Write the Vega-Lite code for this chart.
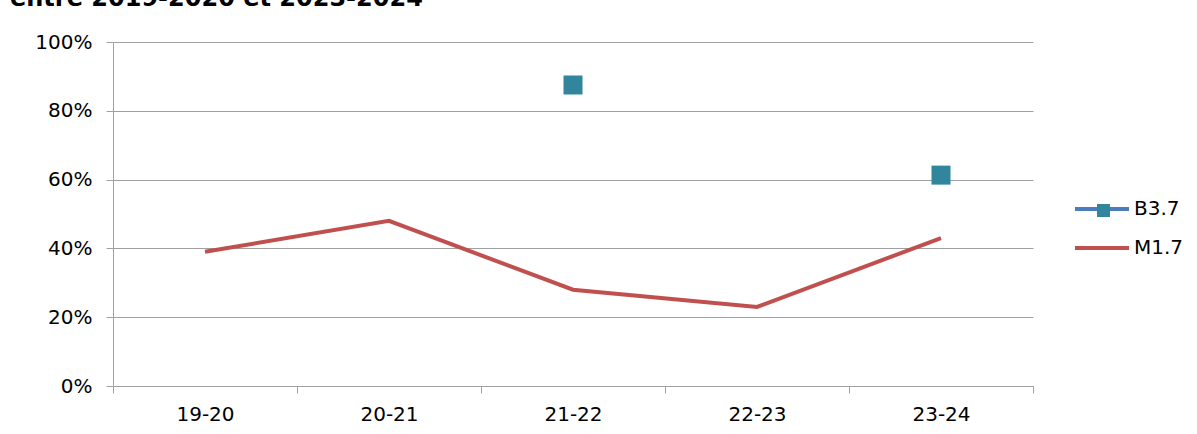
{
  "$schema": "https://vega.github.io/schema/vega-lite/v6.json",
  "autosize": "none",
  "padding": {"left": 113, "top": 42, "right": 164, "bottom": 48},
  "width": 920,
  "height": 344,
  "background": "white",
  "title": {
    "text": "entre 2019-2020 et 2023-2024",
    "anchor": "start",
    "frame": "group",
    "orient": "top",
    "font": "DejaVu Sans",
    "fontSize": 24,
    "fontWeight": "bold",
    "color": "#000000",
    "baseline": "alphabetic",
    "offset": 0,
    "dx": -103,
    "dy": -2
  },
  "datasets": {
    "m17": [
      {"year": "19-20", "series": "M1.7", "value": 0.39},
      {"year": "20-21", "series": "M1.7", "value": 0.48},
      {"year": "21-22", "series": "M1.7", "value": 0.28},
      {"year": "22-23", "series": "M1.7", "value": 0.23},
      {"year": "23-24", "series": "M1.7", "value": 0.43}
    ],
    "b37": [
      {"year": "21-22", "series": "B3.7", "value": 0.875},
      {"year": "23-24", "series": "B3.7", "value": 0.613}
    ]
  },
  "encoding": {
    "x": {
      "field": "year",
      "type": "ordinal",
      "sort": ["19-20", "20-21", "21-22", "22-23", "23-24"],
      "scale": {"type": "band", "domain": ["19-20", "20-21", "21-22", "22-23", "23-24"], "paddingInner": 0, "paddingOuter": 0},
      "axis": {
        "title": null,
        "labelAngle": 0,
        "tickBand": "extent",
        "tickSize": 7,
        "labelPadding": 11,
        "labelFont": "DejaVu Sans",
        "labelFontSize": 20,
        "labelColor": "#000000",
        "domainColor": "#a0a0a0",
        "tickColor": "#a0a0a0",
        "grid": false
      }
    },
    "y": {
      "field": "value",
      "type": "quantitative",
      "scale": {"domain": [0, 1], "nice": false},
      "axis": {
        "title": null,
        "values": [0, 0.2, 0.4, 0.6, 0.8, 1],
        "format": ".0%",
        "tickSize": 7,
        "labelPadding": 14,
        "labelFont": "DejaVu Sans",
        "labelFontSize": 20,
        "labelColor": "#000000",
        "domainColor": "#a0a0a0",
        "tickColor": "#a0a0a0",
        "gridColor": "#a0a0a0",
        "grid": true
      }
    }
  },
  "layer": [
    {
      "data": {"name": "m17"},
      "mark": {"type": "line", "strokeWidth": 4},
      "encoding": {
        "stroke": {
          "field": "series",
          "type": "nominal",
          "scale": {"domain": ["B3.7", "M1.7"], "range": ["#4a7ebb", "#c0504d"]},
          "legend": {
            "title": null,
            "orient": "none",
            "legendX": 960,
            "legendY": 138,
            "padding": 0,
            "symbolType": "stroke",
            "symbolSize": 2916,
            "symbolStrokeWidth": 4,
            "rowPadding": -13,
            "labelOffset": 3,
            "labelFont": "DejaVu Sans",
            "labelFontSize": 20,
            "labelColor": "#000000",
            "zindex": 1
          }
        }
      }
    },
    {
      "data": {"name": "b37"},
      "mark": {"type": "point", "shape": "square", "filled": true, "size": 361, "opacity": 1, "strokeWidth": 0},
      "encoding": {
        "fill": {
          "field": "series",
          "type": "nominal",
          "scale": {"domain": ["B3.7"], "range": ["#31859c"]},
          "legend": {
            "title": null,
            "orient": "none",
            "legendX": 980.5,
            "legendY": 158.5,
            "padding": 0,
            "symbolType": "square",
            "symbolSize": 169,
            "symbolStrokeWidth": 0,
            "symbolOpacity": 1,
            "labelOpacity": 0,
            "labelFontSize": 20,
            "zindex": 2
          }
        }
      }
    }
  ],
  "config": {
    "view": {"stroke": null},
    "font": "DejaVu Sans"
  }
}
